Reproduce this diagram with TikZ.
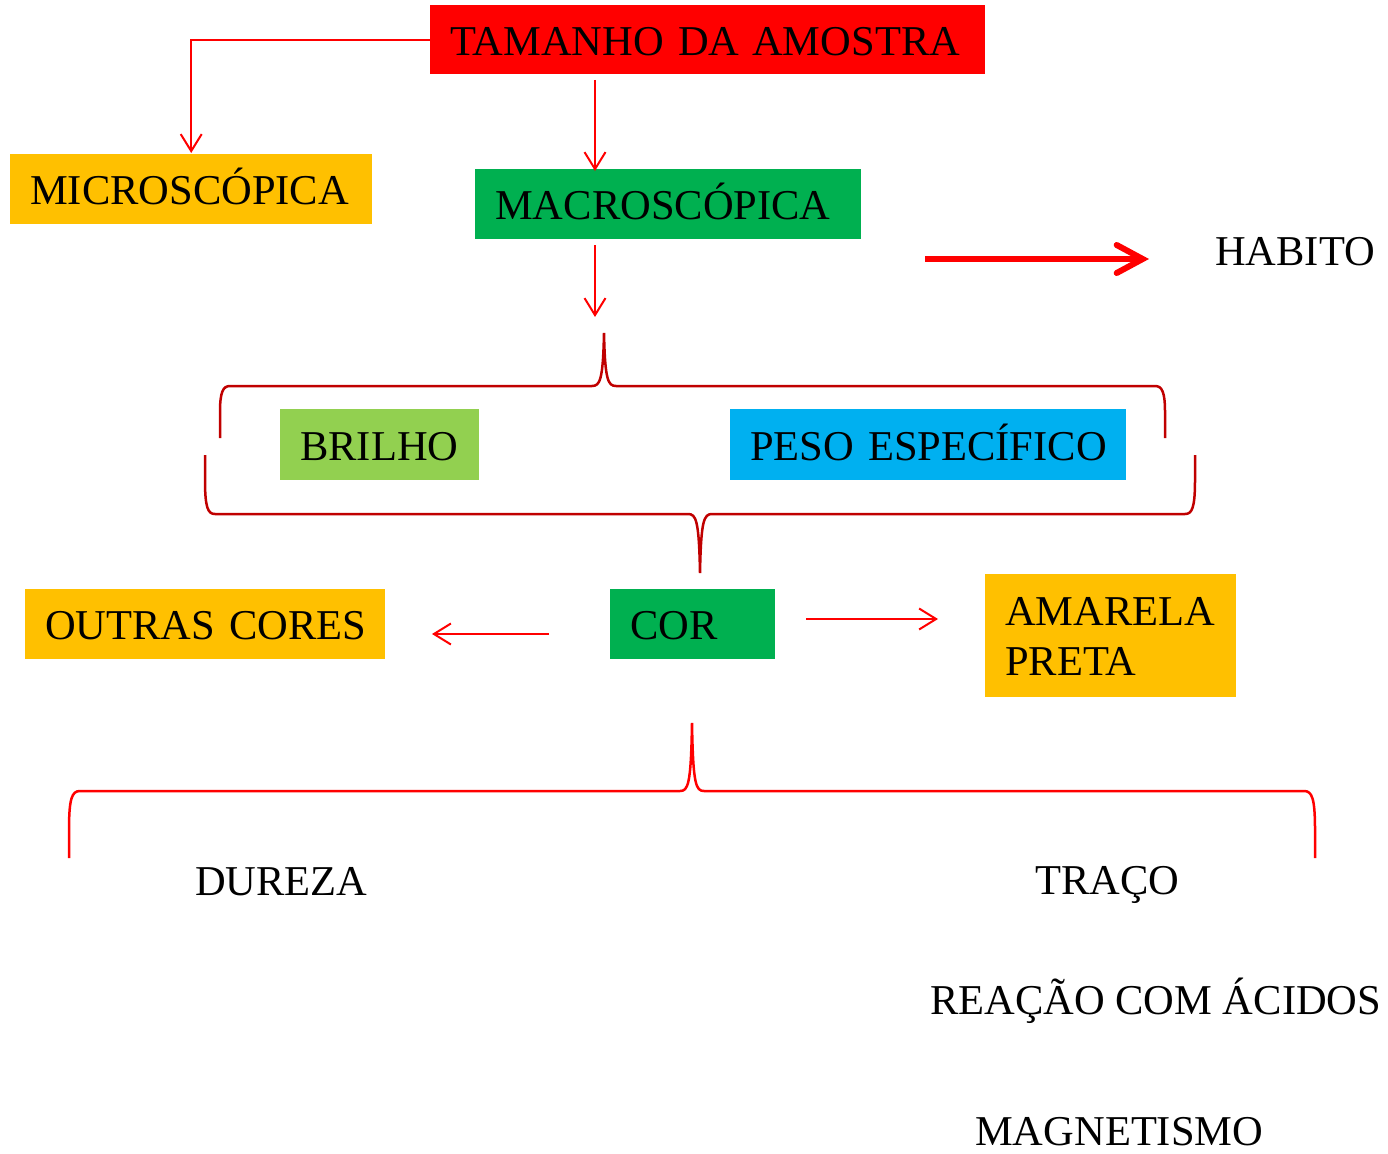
\documentclass[tikz,border=0pt]{standalone}
\usepackage{fontspec}
\setmainfont{Liberation Serif}
\usetikzlibrary{arrows.meta}
\definecolor{cRed}{HTML}{FF0000}
\definecolor{cDark}{HTML}{C00000}
\definecolor{cOrange}{HTML}{FFC000}
\definecolor{cGreen}{HTML}{00B050}
\definecolor{cLight}{HTML}{92D050}
\definecolor{cBlue}{HTML}{00B0F0}
\tikzset{
  bigfont/.style={font=\fontsize{42.5}{51}\selectfont},
  box/.style={bigfont, anchor=north west, inner xsep=20pt, inner ysep=0pt,
    align=left, text height=31pt, text depth=0pt},
  plain/.style={bigfont, anchor=base west, inner sep=0pt},
  thinarrow/.style={draw=cRed, line width=2pt, -{Straight Barb[length=17pt,width=21pt]}},
  bracered/.style={draw=cDark, line width=2.5pt},
  bracebright/.style={draw=cRed, line width=2.5pt},
}
\begin{document}
\begin{tikzpicture}[x=1pt,y=-1pt]
\useasboundingbox (0,0) rectangle (1388,1153);
% boxes
\node[box, fill=cRed, text width=515pt, minimum height=69pt] (tam) at (430,5) {\mbox{TAMANHO DA\hspace{0.3em}AMOSTRA}};
\node[box, fill=cOrange, text width=322pt, minimum height=70pt] (mic) at (10,154) {\mbox{MICROSCÓPICA}};
\node[box, fill=cGreen, text width=346pt, minimum height=70pt] (mac) at (475,169) {\mbox{MACROSCÓPICA}};
\node[box, fill=cLight, text width=159pt, minimum height=71pt] (bri) at (280,409) {\mbox{BRILHO}};
\node[box, fill=cBlue, text width=356pt, minimum height=71pt] (pes) at (730,409) {\mbox{PESO ESPECÍFICO}};
\node[box, fill=cOrange, text width=320pt, minimum height=70pt] (out) at (25,589) {\mbox{OUTRAS CORES}};
\node[box, fill=cGreen, text width=125pt, minimum height=70pt] (cor) at (610,589) {\mbox{COR}};
\node[bigfont, anchor=north west, fill=cOrange, minimum width=251pt, minimum height=123pt] (ama) at (985,574) {};
\node[plain] (amat) at (1005,625) {AMARELA};
\node[plain] (pret) at (1005,675) {PRETA};
% plain texts
\node[plain] (hab) at (1215,265) {HABITO};
\node[plain] (dur) at (195,895) {DUREZA};
\node[plain] (tra) at (1035,894) {TRAÇO};
\node[plain] (rea) at (930,1014) {REAÇÃO COM ÁCIDOS};
\node[plain] (mag) at (975,1145) {MAGNETISMO};
% coordinates
\coordinate (a1) at (595,80);
\coordinate (a2) at (595,245);
\coordinate (a3) at (595,317);
\coordinate (l1) at (549,634);
\coordinate (l2) at (432,634);
\coordinate (r1) at (806,619);
\coordinate (r2) at (938,619);
\coordinate (h1) at (925,259);
\coordinate (h2) at (1149,259);
% arrows
\draw[thinarrow] (tam.west |- 0,40) -| ([yshift=1pt]mic.north);
\draw[thinarrow] (a1) -- ([yshift=-2pt]mac.north -| a1);
\draw[thinarrow] (a2) -- (a3);
\draw[thinarrow] (l1) -- (l2);
\draw[thinarrow] (r1) -- (r2);
\draw[draw=cRed, line width=6pt, -{Straight Barb[length=26pt,width=28pt,line cap=round]}] (h1) -- (h2);
% upper brace (tip up)
\draw[bracered] (220,438) -- (220,412) .. controls (220,392) and (223,386) .. (230,386)
  -- (592,386) .. controls (600,386) and (603,380) .. (604,333)
  .. controls (605,380) and (608,386) .. (616,386)
  -- (1155,386) .. controls (1162,386) and (1165,392) .. (1165,412) -- (1165,438);
% lower brace (tip down)
\draw[bracered] (205,455) -- (205,480) .. controls (205,508) and (208,514) .. (215,514)
  -- (688,514) .. controls (696,514) and (699,520) .. (700,573)
  .. controls (701,520) and (704,514) .. (712,514)
  -- (1185,514) .. controls (1192,514) and (1195,508) .. (1195,480) -- (1195,455);
% bottom brace (tip up)
\draw[bracebright] (69,858) -- (69,830) .. controls (69,798) and (72,791) .. (80,791)
  -- (680,791) .. controls (688,791) and (691,785) .. (692,723)
  .. controls (693,785) and (696,791) .. (704,791)
  -- (1304,791) .. controls (1312,791) and (1315,798) .. (1315,830) -- (1315,858);
\end{tikzpicture}
\end{document}
